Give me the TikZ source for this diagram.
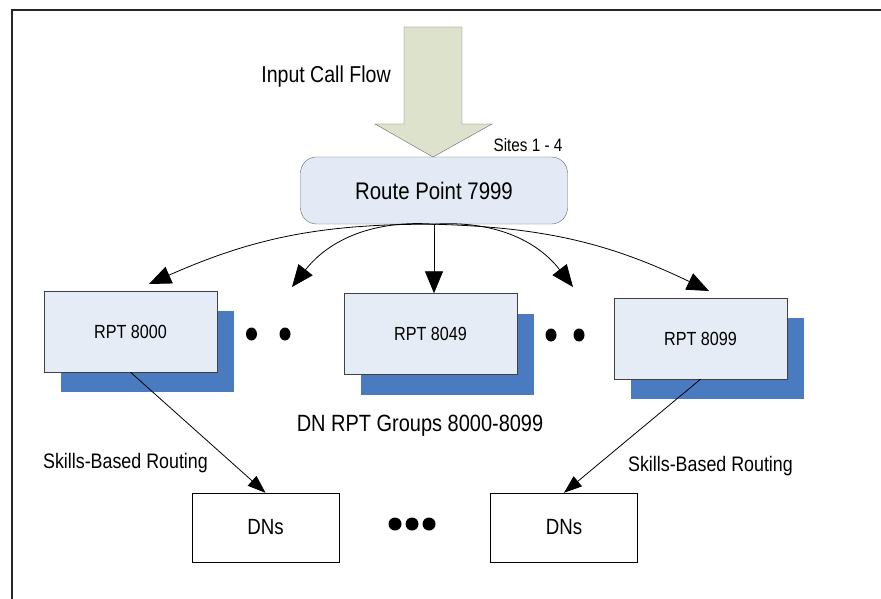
\documentclass[tikz,border=0pt]{standalone}
\usepackage{fontspec}
\setmainfont{Liberation Sans}[FakeStretch=0.85]
\usepackage{tikz}
\usetikzlibrary{arrows.meta,positioning,shadows,calc}

\definecolor{boxfill}{RGB}{230,236,246}
\definecolor{rpfill}{RGB}{227,234,246}
\definecolor{shadowblue}{RGB}{74,123,192}
\definecolor{flowfill}{RGB}{221,226,204}

\begin{document}
\begin{tikzpicture}[x=1pt,y=-1pt,>={Triangle[length=22pt,width=18pt]},
  rpt/.style={draw=black!75,fill=boxfill,minimum width=173pt,minimum height=81pt,
    font=\fontsize{19}{22}\selectfont,
    drop shadow={shadow xshift=17pt,shadow yshift=-20pt,fill=shadowblue,opacity=1}},
  dnbox/.style={draw,fill=white,minimum width=147pt,minimum height=69pt,
    font=\fontsize{22}{26}\selectfont},
  lbl/.style={inner sep=0pt,anchor=base},
  flow/.style={-{Triangle[length=18pt,width=13pt]}}]
\useasboundingbox (0,0) rectangle (881,599);
\draw[line width=2pt,black!85] (12,620) -- (12,10) -- (900,10);

% input arrow
\draw[fill=flowfill,draw=black!60]
  (404,27) -- (462,27) -- (462,124) -- (492,124)
  -- (433,157) -- (375,124) -- (404,124) -- cycle;
\node[lbl,font=\fontsize{23}{26}\selectfont] (input) at (326,83) {Input Call Flow};
\node[lbl,font=\fontsize{18}{20}\selectfont] (sites) at (528,152) {Sites 1 - 4};

\node[draw=black!60,fill=rpfill,rounded corners=16pt,minimum width=267pt,
  minimum height=67pt,font=\fontsize{24}{28}\selectfont] (route) at (434,190.5) {Route Point 7999};

% route point groups
\node[rpt] (rpt1) at (130.5,331.5) {RPT 8000};
\node[rpt] (rpt2) at (430.5,334) {RPT 8049};
\node[rpt] (rpt3) at (700.5,338.5) {RPT 8099};
\fill (251.5,334) ellipse [x radius=5.5,y radius=6.5];
\fill (285,334) ellipse [x radius=5.5,y radius=6.5];
\fill (551,335) ellipse [x radius=5.5,y radius=6.5];
\fill (579,335) ellipse [x radius=5.5,y radius=6.5];

\node[lbl,font=\fontsize{23.5}{27}\selectfont] (groups) at (420,431) {DN RPT Groups 8000-8099};
\node[lbl,font=\fontsize{21}{24}\selectfont] (skill1) at (125.5,468) {Skills-Based Routing};
\node[lbl,font=\fontsize{21}{24}\selectfont] (skill2) at (710.5,471) {Skills-Based Routing};

\node[dnbox] (dn1) at (265.5,527.5) {DNs};
\node[dnbox] (dn2) at (564,527.5) {DNs};
\fill (395,524) circle [radius=6.5];
\fill (412,524) circle [radius=6.5];
\fill (429,524) circle [radius=6.5];

% connectors
\coordinate (tip1) at (149,284);
\coordinate (tip2) at (292,287);
\coordinate (tip4) at (573,287);
\coordinate (tip5) at (709,291);
\draw[->,line width=0.8pt] (route.south) to[bend right=12] (tip1);
\draw[->,line width=0.8pt] (route.south) to[bend right=28] (tip2);
\draw[->,line width=0.8pt] (route.south) -- (route.south |- rpt2.north);
\draw[->,line width=0.8pt] (route.south) to[bend left=28] (tip4);
\draw[->,line width=0.8pt] (route.south) to[bend left=12] (tip5);
\draw[flow,line width=0.8pt] (rpt1.south) -- (dn1.north);
\draw[flow,line width=0.8pt] (rpt3.south) -- (dn2.north);
\end{tikzpicture}
\end{document}
